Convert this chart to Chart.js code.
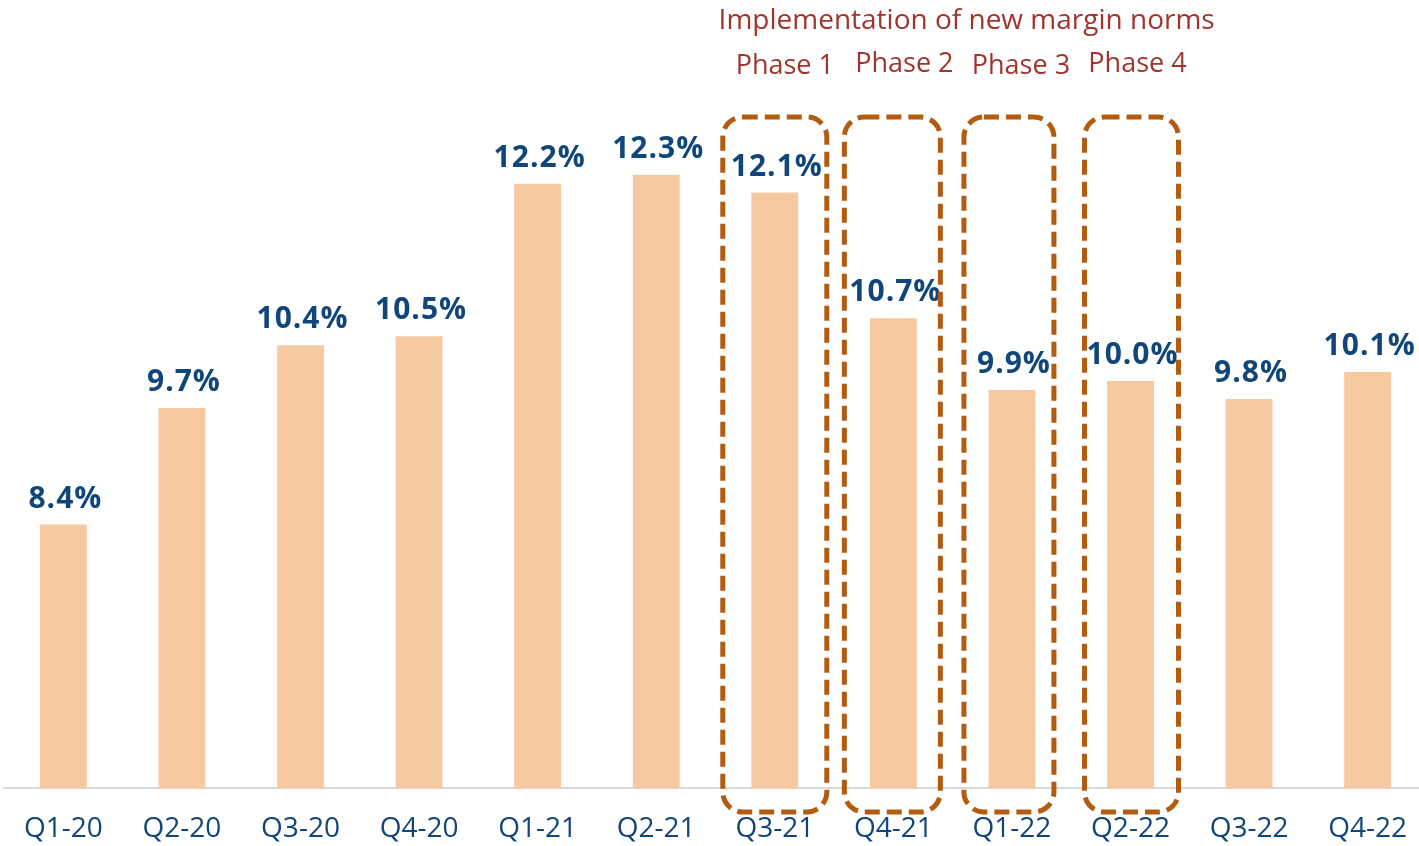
<!DOCTYPE html>
<html><head><meta charset="utf-8">
<script src="https://cdn.jsdelivr.net/npm/chart.js@4/dist/chart.umd.min.js"></script>
<style>
html,body{margin:0;padding:0;background:#fff;overflow:hidden;width:1419px;height:846px;}
#wrap{position:absolute;left:0;top:0;width:1431px;height:873px;}
</style></head>
<body><div id="wrap"><canvas id="c" width="1431" height="873"></canvas></div>
<script>
const categories = ['Q1-20','Q2-20','Q3-20','Q4-20','Q1-21','Q2-21','Q3-21','Q4-21','Q1-22','Q2-22','Q3-22','Q4-22'];
const values = [8.4, 9.7, 10.4, 10.5, 12.2, 12.3, 12.1, 10.7, 9.9, 10.0, 9.8, 10.1];
const valueLabels = ['8.4%','9.7%','10.4%','10.5%','12.2%','12.3%','12.1%','10.7%','9.9%','10.0%','9.8%','10.1%'];
const phaseCategories = ['Q3-21','Q4-21','Q1-22','Q2-22'];
const phaseLabels = ['Phase 1','Phase 2','Phase 3','Phase 4'];
const annotationTitle = 'Implementation of new margin norms';

const BLUE = '#10467A';
const RED = '#A0352E';
const BOX = '#B35C10';

const overlay = {
  id: 'overlay',
  afterDatasetsDraw(chart) {
    const ctx = chart.ctx;
    const x = chart.scales.x;
    const meta = chart.getDatasetMeta(0);
    // value labels
    ctx.save();
    ctx.font = 'bold 30px "Open Sans"';
    ctx.fillStyle = BLUE;
    ctx.textAlign = 'center';
    ctx.textBaseline = 'alphabetic';
    ctx.letterSpacing = '1px';
    meta.data.forEach((bar, i) => {
      ctx.fillText(valueLabels[i], bar.x + 2, bar.y - 17);
    });
    ctx.restore();
    // dashed boxes
    const halfW = [52, 48, 45, 47];
    const shift = [0, -1, -3, 1];
    ctx.save();
    ctx.strokeStyle = BOX;
    ctx.lineWidth = 5;
    ctx.setLineDash([15, 7]);
    phaseCategories.forEach((c, k) => {
      const idx = categories.indexOf(c);
      const cx = x.getPixelForValue(idx) + shift[k];
      const top = 117, bottom = 812;
      ctx.beginPath();
      ctx.roundRect(cx - halfW[k], top, halfW[k] * 2, bottom - top, 20);
      ctx.stroke();
    });
    ctx.restore();
    // phase text
    ctx.save();
    ctx.fillStyle = RED;
    ctx.font = '27px "Open Sans"';
    ctx.textAlign = 'center';
    ctx.textBaseline = 'alphabetic';
    const pby = [74, 72, 74, 72];
    const pdx = [10, 11, 9, 7];
    phaseCategories.forEach((c, k) => {
      const idx = categories.indexOf(c);
      ctx.fillText(phaseLabels[k], x.getPixelForValue(idx) + pdx[k], pby[k]);
    });
    const c0 = x.getPixelForValue(categories.indexOf(phaseCategories[0]));
    const c3 = x.getPixelForValue(categories.indexOf(phaseCategories[3]));
    ctx.font = '28px "Open Sans"';
    ctx.fillText(annotationTitle, (c0 + c3) / 2 + 14, 29);
    ctx.restore();
  }
};

new Chart(document.getElementById('c'), {
  type: 'bar',
  data: {
    labels: categories,
    datasets: [{
      data: values,
      backgroundColor: '#F6C9A1',
      borderWidth: 0,
      categoryPercentage: 1,
      barPercentage: 0.395
    }]
  },
  options: {
    responsive: false,
    animation: false,
    events: [],
    layout: { padding: { left: 3, right: 0, top: 67, bottom: 3 } },
    plugins: { legend: { display: false }, tooltip: { enabled: false } },
    scales: {
      y: { display: false, min: 5.46, max: 13.5 },
      x: {
        grid: { display: false, drawTicks: false },
        border: { display: true, color: '#D9D9D9', width: 2 },
        ticks: { color: BLUE, font: { family: 'Open Sans', size: 28, lineHeight: 1.2 }, padding: 24, maxRotation: 0, autoSkip: false }
      }
    }
  },
  plugins: [overlay]
});
</script>
</body></html>
